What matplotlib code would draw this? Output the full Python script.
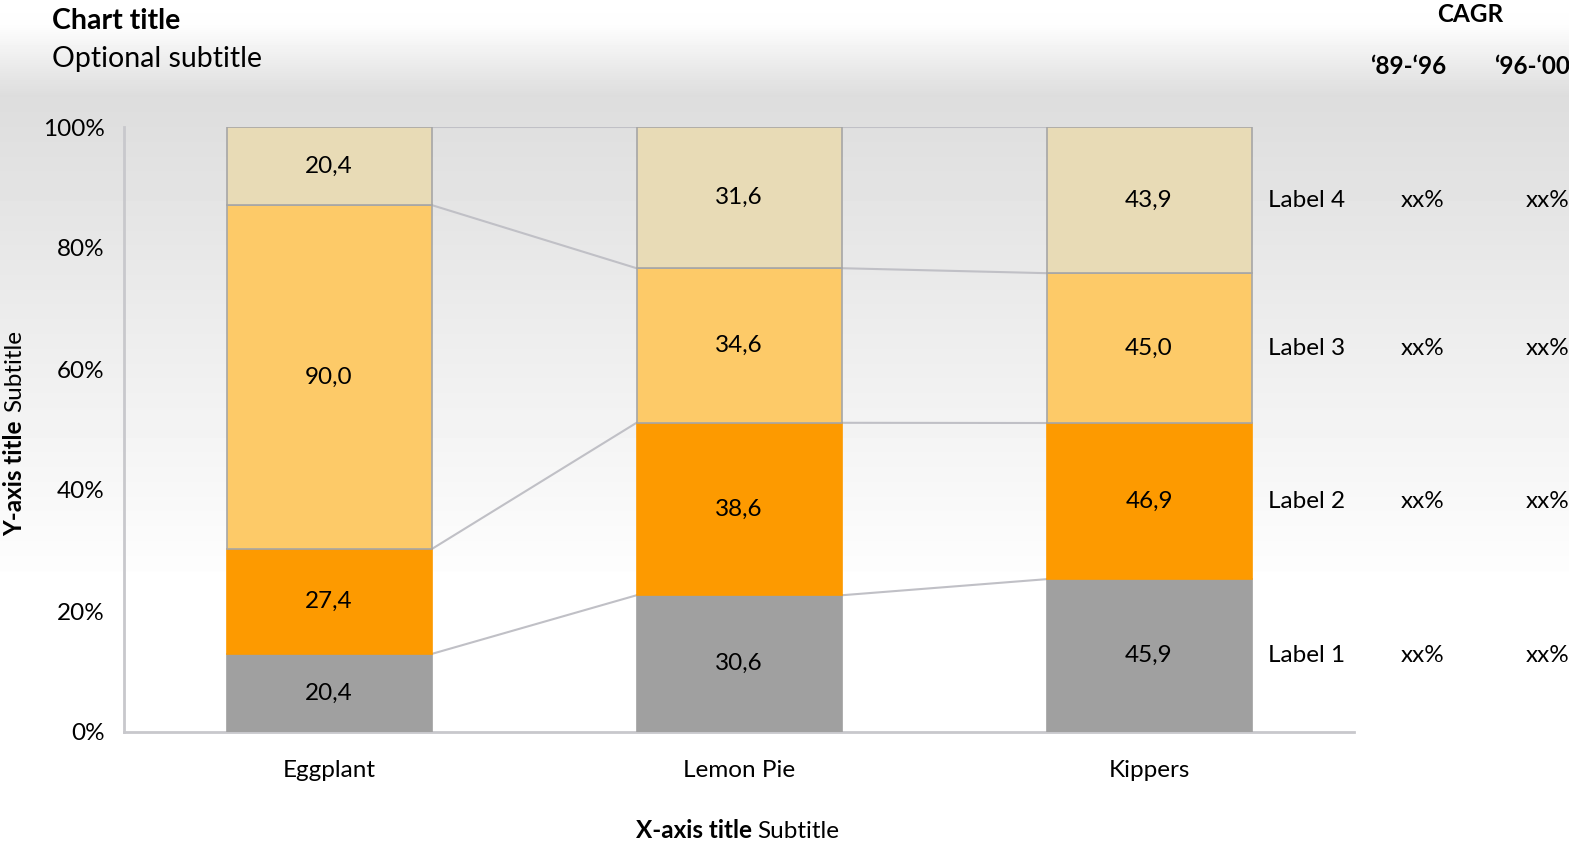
import numpy as np
import matplotlib
matplotlib.use('Agg')
import matplotlib.pyplot as plt

# Datos del grafico
categorias = ['Eggplant', 'Lemon Pie', 'Kippers']
serie1 = [20.4, 30.6, 45.9]
serie2 = [27.4, 38.6, 46.9]
serie3 = [90.0, 34.6, 45.0]
serie4 = [20.4, 31.6, 43.9]
etiquetas = ['Label 1', 'Label 2', 'Label 3', 'Label 4']
cagr_89_96 = ['xx%', 'xx%', 'xx%', 'xx%']
cagr_96_00 = ['xx%', 'xx%', 'xx%', 'xx%']
colores = ['#a0a0a0', '#fd9a00', '#fdca68', '#e8dbb6']

plt.rcParams['font.family'] = ['Lato', 'DejaVu Sans']
fs = 17.5

W, H = 1569, 842
fig = plt.figure(figsize=(W / 100, H / 100), dpi=100)

def px(x, y):
    return x / W, 1 - y / H

# Fondo con degradado
bg = fig.add_axes([0, 0, 1, 1], zorder=-10)
filas = np.arange(H)
gris = np.interp(filas, [0, 25, 95, 570, 572, H], [255, 253, 221, 253, 255, 255]) / 255
img = np.repeat(gris[:, None], 2, axis=1)
bg.imshow(img, cmap='gray', vmin=0, vmax=1, aspect='auto', extent=[0, 1, 0, 1])
bg.axis('off')

x0, y0 = px(124, 732)
x1, y1 = px(1354, 127)
ax = fig.add_axes([x0, y0, x1 - x0, y1 - y0])
ax.patch.set_alpha(0)

series = np.array([serie1, serie2, serie3, serie4])
pct = series / series.sum(axis=0) * 100
acum = np.cumsum(pct, axis=0)
base = acum - pct
x = np.arange(len(categorias))
ancho = 0.5

for i in range(len(series)):
    ax.bar(x, pct[i], ancho, bottom=base[i], color=colores[i],
           edgecolor='#a6a6a6' if i >= 2 else colores[i], linewidth=1.2, zorder=3)
    for j in range(len(x)):
        ax.text(x[j], base[i][j] + pct[i][j] / 2, f'{series[i][j]:.1f}'.replace('.', ','),
                ha='center', va='center', fontsize=fs, zorder=4)

# Lineas de conexion
for i in range(len(series)):
    for j in range(len(x) - 1):
        ax.plot([x[j] + ancho / 2, x[j + 1] - ancho / 2], [acum[i][j], acum[i][j + 1]],
                color='#c0c0c6', linewidth=1.5, zorder=2)

ax.set_xlim(-0.5, 2.5)
ax.set_ylim(0, 100)
ax.set_yticks([0, 20, 40, 60, 80, 100])
ax.set_yticklabels(['0%', '20%', '40%', '60%', '80%', '100%'], fontsize=fs)
ax.set_xticks(x)
ax.set_xticklabels(categorias, fontsize=fs)
ax.tick_params(axis='y', length=0, pad=14)
ax.tick_params(axis='x', length=0, pad=20)
for s in ['top', 'right']:
    ax.spines[s].set_visible(False)
for s in ['left', 'bottom']:
    ax.spines[s].set_color('#c8c8cc')
    ax.spines[s].set_linewidth(2)

# Etiquetas a la derecha y CAGR
centros = base[:, -1] + pct[:, -1] / 2
for i in range(len(etiquetas)):
    yy = centros[i]
    ax.annotate(etiquetas[i], (2.25, yy), xytext=(17, 0), textcoords='offset pixels',
                ha='left', va='center', fontsize=fs, annotation_clip=False)
    ax.annotate(cagr_89_96[i], (2.25, yy), xytext=(171, 0), textcoords='offset pixels',
                ha='center', va='center', fontsize=fs, annotation_clip=False)
    ax.annotate(cagr_96_00[i], (2.25, yy), xytext=(296, 0), textcoords='offset pixels',
                ha='center', va='center', fontsize=fs, annotation_clip=False)

fig.text(*px(1470, 14), 'CAGR', ha='center', va='center', fontsize=fs, fontweight='bold')
fig.text(*px(1408, 66), '\u201889-\u201896', ha='center', va='center', fontsize=fs, fontweight='bold')
fig.text(*px(1532, 66), '\u201896-\u201800', ha='center', va='center', fontsize=fs, fontweight='bold')

# Titulos
fig.text(*px(52, 21), 'Chart title', ha='left', va='center', fontsize=20.5, fontweight='bold')
fig.text(*px(52, 59), 'Optional subtitle', ha='left', va='center', fontsize=20.5)

fig.text(*px(752, 831), 'X-axis title', ha='right', va='center', fontsize=fs, fontweight='bold')
fig.text(*px(757, 831), 'Subtitle', ha='left', va='center', fontsize=fs)

fig.text(*px(15, 420), 'Y-axis title', ha='center', va='top', rotation=90, fontsize=fs, fontweight='bold')
fig.text(*px(15, 412), 'Subtitle', ha='center', va='bottom', rotation=90, fontsize=fs)

plt.savefig('out.png', dpi=100)
